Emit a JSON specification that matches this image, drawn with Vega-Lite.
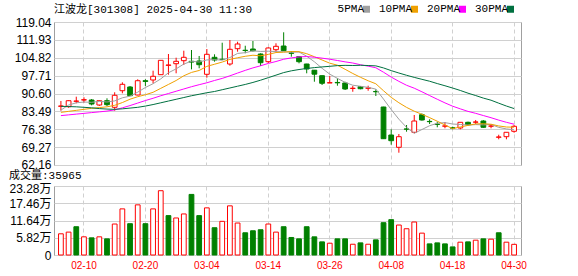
{
"$schema": "https://vega.github.io/schema/vega-lite/v6.json",
"autosize": "pad",
"padding": {"left": 8, "top": 3, "right": 0, "bottom": 0},
"background": "white",
"title": {"text": "江波龙[301308] 2025-04-30 11:30", "anchor": "start", "frame": "group", "font": "Liberation Mono, Noto Sans CJK SC", "fontSize": 11, "fontWeight": "normal", "color": "#000000", "offset": -11},
"data": {"values": [
{"d":"02-05","o":85.5,"h":87.62,"l":83.76,"c":85.63,"v":7.15,"m5":84.0,"m10":83.1,"m20":81.8,"m30":85.5},
{"d":"02-06","o":85.35,"h":87.9,"l":84.95,"c":87.73,"v":7.72,"m5":86.0,"m10":83.5,"m20":82.1,"m30":85.4},
{"d":"02-07","o":87.5,"h":89.33,"l":86.7,"c":87.6,"v":9.54,"m5":86.9,"m10":83.9,"m20":82.4,"m30":85.3},
{"d":"02-10","o":88.0,"h":89.1,"l":86.95,"c":88.13,"v":6.13,"m5":87.2,"m10":84.3,"m20":82.7,"m30":85.1},
{"d":"02-11","o":88.01,"h":88.41,"l":85.9,"c":86.42,"v":5.79,"m5":87.1,"m10":84.7,"m20":83.0,"m30":84.9},
{"d":"02-12","o":86.02,"h":88.0,"l":85.63,"c":87.73,"v":6.13,"m5":87.52,"m10":85.0,"m20":83.3,"m30":84.6},
{"d":"02-13","o":87.73,"h":88.69,"l":85.63,"c":86.15,"v":5.45,"m5":87.21,"m10":85.3,"m20":83.6,"m30":84.4},
{"d":"02-14","o":85.11,"h":91.08,"l":83.76,"c":89.88,"v":10.45,"m5":87.66,"m10":85.9,"m20":84.1,"m30":84.3},
{"d":"02-17","o":91.71,"h":95.05,"l":90.68,"c":94.26,"v":15.56,"m5":88.89,"m10":87.0,"m20":84.9,"m30":84.5},
{"d":"02-18","o":93.19,"h":93.58,"l":89.6,"c":89.72,"v":10.56,"m5":89.55,"m10":88.33,"m20":85.8,"m30":84.8},
{"d":"02-19","o":90.0,"h":96.25,"l":89.9,"c":95.69,"v":16.92,"m5":91.14,"m10":89.33,"m20":86.8,"m30":85.1},
{"d":"02-20","o":95.69,"h":96.25,"l":93.6,"c":95.4,"v":10.56,"m5":92.99,"m10":90.1,"m20":87.8,"m30":85.6},
{"d":"02-21","o":95.97,"h":99.67,"l":94.66,"c":97.44,"v":15.56,"m5":94.5,"m10":91.08,"m20":88.7,"m30":86.2},
{"d":"02-24","o":98.08,"h":103.9,"l":98.0,"c":103.8,"v":21.69,"m5":96.41,"m10":92.65,"m20":89.7,"m30":86.9},
{"d":"02-25","o":101.8,"h":106.31,"l":98.08,"c":101.94,"v":13.29,"m5":98.85,"m10":94.2,"m20":90.6,"m30":87.6},
{"d":"02-26","o":102.45,"h":104.84,"l":98.63,"c":103.4,"v":12.49,"m5":100.4,"m10":95.77,"m20":91.5,"m30":88.3},
{"d":"02-27","o":103.65,"h":107.62,"l":101.94,"c":105.0,"v":13.85,"m5":102.32,"m10":97.65,"m20":92.4,"m30":89.0},
{"d":"02-28","o":103.4,"h":107.9,"l":100.2,"c":103.1,"v":20.44,"m5":103.45,"m10":98.98,"m20":93.3,"m30":89.7},
{"d":"03-03","o":103.53,"h":105.52,"l":100.62,"c":102.06,"v":13.29,"m5":103.1,"m10":99.76,"m20":94.1,"m30":90.3},
{"d":"03-04","o":98.24,"h":108.3,"l":96.88,"c":106.19,"v":15.9,"m5":103.95,"m10":101.4,"m20":94.86,"m30":90.9},
{"d":"03-05","o":105.0,"h":106.19,"l":103.25,"c":103.93,"v":9.2,"m5":104.06,"m10":102.23,"m20":95.78,"m30":91.4},
{"d":"03-06","o":104.2,"h":110.8,"l":103.9,"c":104.1,"v":11.36,"m5":103.88,"m10":103.1,"m20":96.6,"m30":92.1},
{"d":"03-07","o":102.33,"h":111.88,"l":101.66,"c":108.18,"v":16.58,"m5":104.89,"m10":104.17,"m20":97.63,"m30":92.8},
{"d":"03-10","o":108.42,"h":111.2,"l":107.23,"c":110.29,"v":10.79,"m5":106.54,"m10":104.82,"m20":98.73,"m30":93.5},
{"d":"03-11","o":107.8,"h":109.6,"l":106.6,"c":107.7,"v":7.5,"m5":106.84,"m10":105.4,"m20":99.8,"m30":94.2},
{"d":"03-12","o":108.3,"h":111.48,"l":107.3,"c":107.6,"v":8.18,"m5":107.57,"m10":105.82,"m20":100.79,"m30":95.0},
{"d":"03-13","o":106.31,"h":106.59,"l":101.54,"c":102.85,"v":8.52,"m5":107.32,"m10":105.6,"m20":101.63,"m30":95.9},
{"d":"03-14","o":103.25,"h":108.97,"l":102.73,"c":108.7,"v":10.45,"m5":107.43,"m10":106.16,"m20":102.57,"m30":96.9},
{"d":"03-17","o":108.02,"h":110.57,"l":106.99,"c":109.37,"v":7.72,"m5":107.24,"m10":106.89,"m20":103.32,"m30":97.9},
{"d":"03-18","o":109.49,"h":114.94,"l":107.5,"c":107.62,"v":9.54,"m5":107.23,"m10":107.03,"m20":104.22,"m30":98.92},
{"d":"03-19","o":106.71,"h":107.5,"l":105.24,"c":106.6,"v":5.91,"m5":107.03,"m10":107.3,"m20":104.76,"m30":99.62},
{"d":"03-20","o":105.24,"h":105.52,"l":102.6,"c":103.25,"v":5.45,"m5":107.11,"m10":107.22,"m20":105.16,"m30":100.14},
{"d":"03-21","o":102.33,"h":102.4,"l":98.63,"c":100.34,"v":9.54,"m5":105.44,"m10":106.43,"m20":105.3,"m30":100.56},
{"d":"03-24","o":99.87,"h":99.95,"l":95.29,"c":98.28,"v":6.13,"m5":103.22,"m10":105.23,"m20":105.03,"m30":100.9},
{"d":"03-25","o":97.68,"h":97.75,"l":93.98,"c":94.66,"v":4.43,"m5":100.63,"m10":103.93,"m20":104.66,"m30":101.17},
{"d":"03-26","o":94.8,"h":97.56,"l":94.75,"c":94.9,"v":3.97,"m5":98.29,"m10":102.66,"m20":104.24,"m30":101.41},
{"d":"03-27","o":95.0,"h":96.65,"l":93.7,"c":94.85,"v":5.45,"m5":96.61,"m10":101.86,"m20":103.73,"m30":101.7},
{"d":"03-28","o":94.78,"h":95.29,"l":91.99,"c":92.39,"v":5.45,"m5":95.02,"m10":100.23,"m20":103.19,"m30":101.79},
{"d":"03-31","o":92.6,"h":93.58,"l":91.3,"c":92.7,"v":3.63,"m5":93.9,"m10":98.56,"m20":102.73,"m30":101.74},
{"d":"04-01","o":93.3,"h":93.58,"l":92.27,"c":92.5,"v":4.09,"m5":93.47,"m10":97.05,"m20":102.04,"m30":101.83},
{"d":"04-02","o":92.7,"h":93.7,"l":91.7,"c":92.8,"v":3.63,"m5":93.05,"m10":95.67,"m20":101.48,"m30":101.73},
{"d":"04-03","o":91.4,"h":92.27,"l":89.6,"c":91.3,"v":5.11,"m5":92.34,"m10":94.47,"m20":100.84,"m30":101.59},
{"d":"04-07","o":85.23,"h":85.3,"l":72.5,"c":72.62,"v":10.9,"m5":88.38,"m10":91.7,"m20":99.07,"m30":100.77},
{"d":"04-08","o":74.09,"h":76.36,"l":70.23,"c":71.83,"v":11.92,"m5":84.21,"m10":89.06,"m20":97.14,"m30":99.7},
{"d":"04-09","o":69.2,"h":74.49,"l":67.05,"c":73.42,"v":10.11,"m5":80.39,"m10":86.93,"m20":95.43,"m30":98.75},
{"d":"04-10","o":76.5,"h":78.07,"l":75.4,"c":76.4,"v":8.86,"m5":77.11,"m10":85.08,"m20":93.87,"m30":97.85},
{"d":"04-11","o":75.17,"h":82.05,"l":74.77,"c":79.66,"v":11.13,"m5":74.79,"m10":83.56,"m20":92.71,"m30":97.01},
{"d":"04-14","o":82.17,"h":82.7,"l":79.78,"c":80.06,"v":7.38,"m5":76.27,"m10":82.33,"m20":91.28,"m30":96.24},
{"d":"04-15","o":79.5,"h":80.34,"l":78.47,"c":79.4,"v":3.75,"m5":77.79,"m10":81.0,"m20":89.78,"m30":95.48},
{"d":"04-16","o":78.4,"h":79.38,"l":77.16,"c":78.3,"v":4.09,"m5":78.76,"m10":79.58,"m20":88.31,"m30":94.55},
{"d":"04-17","o":77.6,"h":79.26,"l":76.76,"c":77.7,"v":3.75,"m5":79.02,"m10":78.07,"m20":86.87,"m30":93.68},
{"d":"04-18","o":76.95,"h":77.4,"l":76.36,"c":76.85,"v":2.73,"m5":78.46,"m10":76.62,"m20":85.55,"m30":92.77},
{"d":"04-21","o":76.88,"h":79.2,"l":76.36,"c":79.14,"v":4.32,"m5":78.28,"m10":77.28,"m20":84.49,"m30":91.8},
{"d":"04-22","o":79.14,"h":79.4,"l":77.8,"c":78.19,"v":4.43,"m5":78.04,"m10":77.91,"m20":83.48,"m30":90.73},
{"d":"04-23","o":79.2,"h":80.06,"l":78.47,"c":79.26,"v":5.0,"m5":78.23,"m10":78.5,"m20":82.71,"m30":89.78},
{"d":"04-24","o":79.66,"h":80.0,"l":77.0,"c":77.16,"v":5.45,"m5":78.12,"m10":78.57,"m20":81.83,"m30":88.77},
{"d":"04-25","o":77.6,"h":78.47,"l":76.76,"c":77.67,"v":5.34,"m5":78.28,"m10":78.37,"m20":80.97,"m30":87.93},
{"d":"04-28","o":73.2,"h":74.2,"l":72.38,"c":73.3,"v":7.5,"m5":77.12,"m10":77.7,"m20":80.01,"m30":86.75},
{"d":"04-29","o":73.42,"h":75.2,"l":72.38,"c":75.17,"v":4.32,"m5":76.51,"m10":77.27,"m20":79.14,"m30":85.61},
{"d":"04-30","o":75.56,"h":78.07,"l":75.0,"c":77.55,"v":3.6,"m5":76.17,"m10":77.2,"m20":78.39,"m30":84.61}
]},
"transform": [
{"window": [{"op": "lag", "field": "c", "as": "pc"}], "sort": [{"field": "d"}]},
{"calculate": "datum.c >= datum.o", "as": "up"},
{"calculate": "datum.pc == null || datum.c >= datum.pc", "as": "vup"}
],
"vconcat": [
{
"width": 467, "height": 143,
"layer": [
{"mark": {"type": "rule", "strokeWidth": 1},
 "encoding": {
  "x": {"field": "d", "type": "ordinal", "sort": null, "scale": {"type": "band", "paddingInner": 0, "paddingOuter": 0.4},
        "axis": {"values": ["02-10","02-20","03-04","03-14","03-26","04-08","04-18","04-30"], "labels": false, "ticks": false, "domain": false, "grid": true, "gridDash": [4,3], "gridColor": "#d0d0d0", "bandPosition": 0.5, "title": null}},
  "y": {"field": "l", "type": "quantitative", "scale": {"domain": [62.16, 119.04], "nice": false, "zero": false},
        "axis": {"values": [62.16,69.27,76.38,83.49,90.6,97.71,104.82,111.93,119.04], "tickCount": 20, "format": ".2f", "labelOverlap": false, "title": null, "grid": true, "gridColor": "#d0d0d0", "domain": false, "ticks": false, "labelFont": "Liberation Sans", "labelFontSize": 12, "labelColor": "#000000", "labelPadding": 3,
                 "labelOffset": {"condition": {"test": "datum.value < 63", "value": -1}, "value": 0}}},
  "y2": {"field": "h"},
  "color": {"condition": {"test": "datum.up", "value": "#ff0000"}, "value": "#008000"}
 }},
{"mark": {"type": "bar", "width": {"band": 0.62}, "strokeWidth": 1},
 "encoding": {
  "x": {"field": "d", "type": "ordinal", "sort": null},
  "y": {"field": "o", "type": "quantitative"},
  "y2": {"field": "c"},
  "fill": {"condition": {"test": "datum.up", "value": "#ffffff"}, "value": "#008000"},
  "stroke": {"condition": {"test": "datum.up", "value": "#ff0000"}, "value": "#008000"}
 }},
{"transform": [{"fold": ["m5","m10","m20","m30"], "as": ["ma","val"]}],
 "mark": {"type": "line", "strokeWidth": 1},
 "encoding": {
  "x": {"field": "d", "type": "ordinal", "sort": null},
  "y": {"field": "val", "type": "quantitative"},
  "color": {"field": "ma", "type": "nominal",
    "scale": {"domain": ["m5","m10","m20","m30"], "range": ["#a0a0a0","#f0a000","#ff00ff","#007040"]},
    "legend": {"orient": "none", "legendX": 307, "legendY": -18.5, "direction": "horizontal", "title": null,
      "labelExpr": "{'m5':'5PMA','m10':'10PMA','m20':'20PMA','m30':'30PMA'}[datum.value]",
      "symbolType": "square", "symbolSize": 4, "symbolStrokeWidth": 5,
      "labelFont": "Liberation Mono", "labelFontSize": 11, "labelColor": "#000000",
      "labelAlign": "right", "labelOffset": -8, "columnPadding": 0}}
 }}
]
},
{
"width": 467, "height": 69,
"title": {"text": "成交量:35965", "anchor": "start", "font": "Liberation Mono, Noto Sans CJK SC", "fontSize": 11, "fontWeight": "normal", "color": "#000000", "offset": 1},
"mark": {"type": "bar", "width": {"band": 0.62}, "strokeWidth": 1},
"encoding": {
  "x": {"field": "d", "type": "ordinal", "sort": null, "scale": {"type": "band", "paddingInner": 0, "paddingOuter": 0.4},
        "axis": {"values": ["02-10","02-20","03-04","03-14","03-26","04-08","04-18","04-30"], "labelColor": "#ff0000", "labelFont": "Liberation Sans", "labelFontSize": 10, "labelAngle": 0, "labelPadding": 5, "ticks": false, "domain": false, "grid": true, "gridDash": [4,3], "gridColor": "#d0d0d0", "bandPosition": 0.5, "title": null}},
  "y": {"field": "v", "type": "quantitative", "scale": {"domain": [0, 23.28], "nice": false},
        "axis": {"values": [0,5.82,11.64,17.46,23.28], "tickCount": 20, "labelOverlap": false,
                 "labelBaseline": {"condition": {"test": "datum.value > 23", "value": "top"}, "value": "middle"},
                 "labelOffset": {"condition": {"test": "datum.value > 23", "value": -3}, "value": 0},
                 "labelExpr": "datum.value == 0 ? '0' : format(datum.value, '.2f') + '万'", "title": null, "grid": true, "gridColor": "#d0d0d0", "domain": false, "ticks": false, "labelFont": "Liberation Sans, Noto Sans CJK SC", "labelFontSize": 12, "labelColor": "#000000", "labelPadding": 3}},
  "fill": {"condition": {"test": "datum.vup", "value": "#ffffff"}, "value": "#008000"},
  "stroke": {"condition": {"test": "datum.vup", "value": "#ff0000"}, "value": "#008000"}
}
}
],
"spacing": 21,
"bounds": "flush",
"config": {"view": {"stroke": "#a0a0a0", "strokeWidth": 1}}
}
